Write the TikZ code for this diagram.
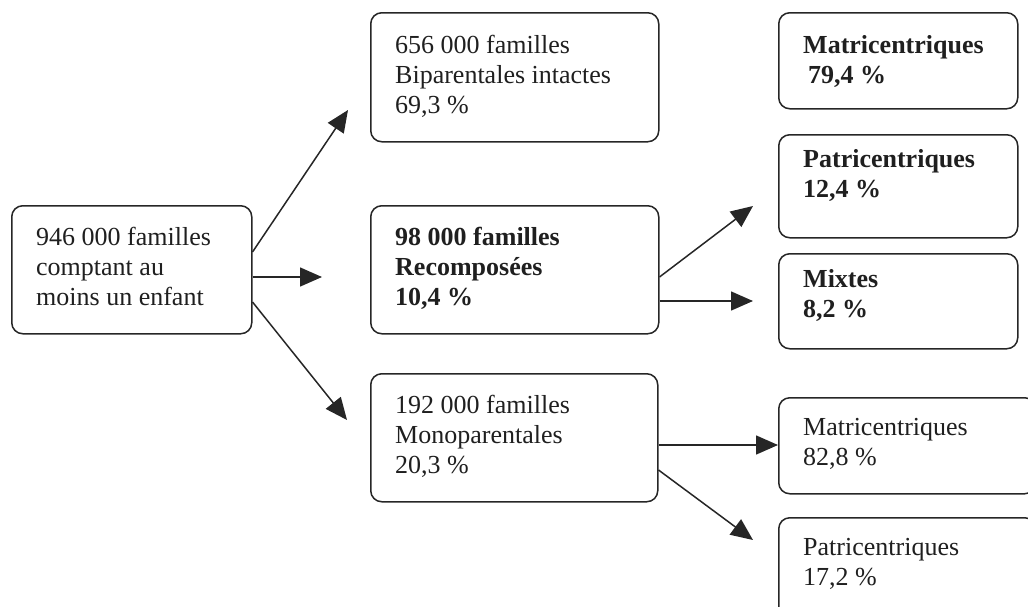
\documentclass[tikz,border=0pt]{standalone}
\usepackage{fontspec}
\setmainfont{Liberation Serif}
\usetikzlibrary{arrows.meta,calc}
\begin{document}
\begin{tikzpicture}[x=1pt,y=-1pt,
  box/.style={draw=black!85, line width=1.5pt, rounded corners=11pt,
    inner sep=0pt, anchor=north west},
  txt/.style={anchor=north west, inner sep=0pt, align=left,
    font=\fontsize{26}{30}\selectfont, text=black!88},
  txtb/.style={txt, font=\fontsize{26}{30}\selectfont\bfseries},
  arr/.style={draw=black!85, line width=1.5pt,
    -{Triangle[length=22pt,width=19pt]}}]
\useasboundingbox (0,0) rectangle (1028,606);
\clip (0,0) rectangle (1028,606);

% boxes
\node[box, minimum width=240pt, minimum height=128pt] (root) at (11,205) {};
\node[box, minimum width=288pt, minimum height=129pt] (bip)  at (370,12) {};
\node[box, minimum width=288pt, minimum height=128pt] (rec)  at (370,205) {};
\node[box, minimum width=287pt, minimum height=128pt] (mono) at (370,373) {};
\node[box, minimum width=239pt, minimum height=96pt]  (matB) at (778,12) {};
\node[box, minimum width=239pt, minimum height=103pt] (patB) at (778,134) {};
\node[box, minimum width=239pt, minimum height=95pt]  (mix)  at (778,253) {};
\node[box, minimum width=257pt, minimum height=96pt]  (matR) at (778,397) {};
\node[box, minimum width=257pt, minimum height=110pt] (patR) at (778,517) {};

% labels
\node[txt]  (rootT) at ($(root.north west)+(25,22)$) {946 000 familles\\comptant au\\moins un enfant};
\node[txt]  (bipT)  at ($(bip.north west)+(25,23)$)  {656 000 familles\\Biparentales intactes\\69,3~\%};
\node[txtb] (recT)  at ($(rec.north west)+(25,22)$)  {98 000 familles\\Recomposées\\10,4~\%};
\node[txt]  (monoT) at ($(mono.north west)+(25,22)$) {192 000 familles\\Monoparentales\\20,3~\%};
\node[txtb] (matBT) at ($(matB.north west)+(25,23)$) {Matricentriques\\\hspace{5pt}79,4~\%};
\node[txtb] (patBT) at ($(patB.north west)+(25,15)$) {Patricentriques\\12,4~\%};
\node[txtb] (mixT)  at ($(mix.north west)+(25,16)$)  {Mixtes\\8,2~\%};
\node[txt]  (matRT) at ($(matR.north west)+(25,21)$) {Matricentriques\\82,8~\%};
\node[txt]  (patRT) at ($(patR.north west)+(25,21)$) {Patricentriques\\17,2~\%};

% arrow tips
\coordinate (tBip)  at (348,110);
\coordinate (tRec)  at (322,277);
\coordinate (tMono) at (347,420);
\coordinate (tPatB) at (753,206);
\coordinate (tMix)  at (753,301);
\coordinate (tPatR) at (753,540);

% connectors
\draw[arr] ($(root.north east)+(0,47)$) -- (tBip);
\draw[arr] ($(root.north east)+(0,72)$) -- (tRec);
\draw[arr] ($(root.north east)+(0,97)$) -- (tMono);
\draw[arr] ($(rec.north east)+(0,72)$) -- (tPatB);
\draw[arr] ($(rec.north east)+(0,96)$) -- (tMix);
\draw[arr] ($(mono.north east)+(0,72)$) -- (matR.west |- {$(mono.north east)+(0,72)$});
\draw[arr] ($(mono.north east)+(0,97)$) -- (tPatR);
\end{tikzpicture}
\end{document}
